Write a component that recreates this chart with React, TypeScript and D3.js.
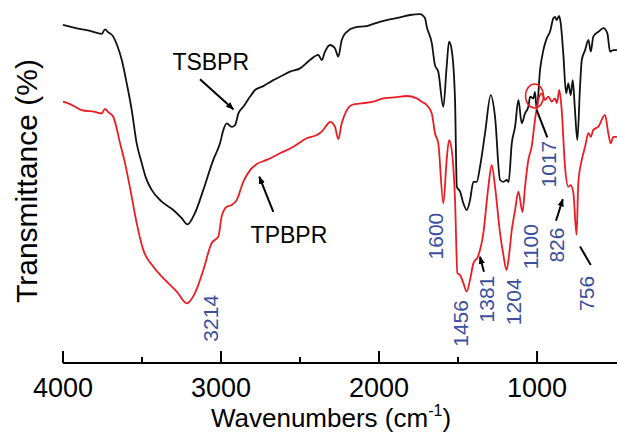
import React from "react";
import * as d3 from "d3";

// TSBPR (black) spectrum: [wavenumber cm-1, transmittance a.u.]
const tsbpr: [number, number][] = [
  [4000,101.7],[3924,100.7],[3829,99.7],[3755,98.7],[3734,100.2],[3715,99.3],[3682,97.8],[3658,95],[3628,90],[3597,82.3],[3565,73.3],[3534,62.3],[3502,55.7],[3475,50.7],[3439,46.7],[3375,42.8],[3302,40],[3249,37.3],[3213,35.2],[3165,39],[3112,46.7],[3049,56.7],[3006,62.3],[2985,66.7],[2964,68.9],[2932,67.7],[2911,68.3],[2890,72.2],[2859,74.4],[2816,77.8],[2785,80],[2732,81.3],[2669,83.3],[2627,84.4],[2563,86.1],[2500,87.2],[2437,90],[2384,91.7],[2363,90],[2342,92.8],[2310,95],[2279,93.9],[2258,91.1],[2236,96.7],[2204,99.4],[2152,100.9],[2078,101.3],[2015,102.4],[1951,103.3],[1867,104.2],[1804,105],[1741,105.3],[1709,103.9],[1698,101.1],[1666,95.6],[1646,88.3],[1625,86.1],[1593,74.4],[1572,87.8],[1557,96.1],[1540,93.3],[1519,76.7],[1508,47.8],[1487,46.1],[1466,42.2],[1445,40],[1424,43.3],[1403,49.4],[1382,49.4],[1361,54.4],[1329,65.6],[1293,78.3],[1266,71.1],[1234,50],[1213,49.4],[1192,50],[1180,49.3],[1160,62.2],[1139,67.8],[1118,76.7],[1097,68.9],[1076,72.2],[1055,74.4],[1044,77.8],[1023,77.2],[1013,79.4],[1002,73.3],[981,86.7],[960,93.3],[939,97.2],[918,99.4],[897,103.9],[886,104.4],[875,103.3],[861,104.7],[850,102.2],[834,92.2],[816,78.9],[802,82.2],[787,78.3],[774,83.3],[760,73.3],[745,63.3],[728,81.1],[717,90],[696,93.3],[675,96.7],[660,92.8],[644,97.8],[612,99.4],[580,100.6],[555,98.9],[538,92.8],[517,93.3],[494,93.3]
];

// TPBPR (red) spectrum
const tpbpr: [number, number][] = [
  [4000,76.1],[3956,75.3],[3882,73.3],[3797,72.7],[3755,72.2],[3734,73.7],[3715,72.7],[3682,71.1],[3639,62.3],[3608,55.7],[3565,44.4],[3534,35.7],[3492,26.7],[3428,21.1],[3354,16.7],[3280,12.8],[3217,8.9],[3165,12.3],[3112,20],[3059,29],[3017,31.1],[2996,37.8],[2964,41.1],[2932,41.7],[2901,43.3],[2859,49.4],[2816,53.3],[2774,55.3],[2711,56.7],[2627,58.9],[2542,61.1],[2458,63.9],[2394,65],[2363,66.1],[2331,68.3],[2310,69.4],[2279,67.8],[2258,63.6],[2236,68.9],[2204,73.3],[2173,75],[2099,75.6],[2036,76.1],[1973,77.2],[1888,77.6],[1825,78],[1761,77.2],[1730,76.1],[1698,75],[1666,72.2],[1646,65.6],[1625,62.2],[1593,42.2],[1572,56.7],[1557,63.3],[1540,60],[1519,43.3],[1504,18.9],[1487,18.3],[1466,15.6],[1445,12.8],[1424,16.7],[1403,22.2],[1372,24.7],[1340,32.2],[1308,47.8],[1287,55],[1266,47.8],[1234,32.2],[1213,25],[1193,20],[1177,25],[1160,33.3],[1139,40],[1118,46.1],[1092,39.3],[1076,47.8],[1055,56.7],[1034,61.1],[1013,70],[992,76.7],[970,78.9],[949,76.7],[928,77.8],[907,76.1],[886,77.2],[875,75.6],[859,80],[844,73.3],[823,54.4],[802,47.8],[787,48.3],[770,45.6],[750,31.7],[739,48.9],[717,56.7],[696,61.1],[675,65.6],[660,64.4],[644,66.7],[612,67.8],[570,71.7],[549,65.6],[534,62.2],[517,64.4],[494,64.4]
];

const majorTicks = [4000, 3000, 2000, 1000];
const minorTicks = [3500, 2500, 1500];

// peak labels: text, anchor wavenumber, anchor transmittance (label centre)
const peakLabels: [string, number, number][] = [
  ["3214", 3065, 3.9],
  ["1600", 1641, 31.3],
  ["1456", 1487, 2.2],
  ["1381", 1318, 10.3],
  ["1204", 1150, 9.4],
  ["1100", 1044, 27.8],
  ["1017", 929, 55.3],
  ["826", 875, 28.3],
  ["756", 686, 12.2],
];

// leader lines: [w1, t1, w2, t2, arrowhead]
const leaders: [number, number, number, number, boolean][] = [
  [1336, 19.4, 1361, 24.4, true],
  [880, 36.4, 837, 43.6, true],
  [660, 21.7, 728, 27.8, false],
  [1002, 73.3, 935, 64.2, false],
  [3133, 83.6, 2922, 73.6, true],
  [2669, 39.4, 2758, 51.1, true],
];

const seriesLabels: [string, number, number][] = [
  ["TSBPR", 3065, 86.7],
  ["TPBPR", 2570, 29.1],
];

const circleMark: [number, number] = [1016, 78];

const W = 617;
const H = 433;
const FONT = "'Liberation Sans', Arial, Helvetica, sans-serif";
const BLUE = "#3d4f9e";
const RED = "#ec1c24";

export default function App() {
  const x = d3.scaleLinear().domain([4000, 494]).range([63, 617]);
  const y = d3.scaleLinear().domain([-11, 110]).range([363, 0]);
  const axisY = 363;

  const line = d3
    .line<[number, number]>()
    .x((d) => x(d[0]))
    .y((d) => y(d[1]))
    .curve(d3.curveMonotoneX);

  return (
    <svg
      width={W}
      height={H}
      style={{ position: "absolute", left: 0, top: 0, background: "#fff" }}
      fontFamily={FONT}
    >
      <defs>
        <marker
          id="ah"
          viewBox="0 0 10 10"
          refX="9"
          refY="5"
          markerWidth="4"
          markerHeight="4"
          orient="auto"
          markerUnits="strokeWidth"
        >
          <path d="M0,1 L10,5 L0,9 Z" fill="#000" />
        </marker>
      </defs>

      <path d={line(tsbpr) || ""} fill="none" stroke="#111" strokeWidth={1.8} strokeLinejoin="round" />
      <path d={line(tpbpr) || ""} fill="none" stroke={RED} strokeWidth={1.8} strokeLinejoin="round" />

      <ellipse
        cx={x(circleMark[0])}
        cy={y(circleMark[1])}
        rx={9}
        ry={12}
        fill="none"
        stroke={RED}
        strokeWidth={1.6}
      />

      {leaders.map((l, i) => (
        <line
          key={i}
          x1={x(l[0])}
          y1={y(l[1])}
          x2={x(l[2])}
          y2={y(l[3])}
          stroke="#000"
          strokeWidth={2}
          markerEnd={l[4] ? "url(#ah)" : undefined}
        />
      ))}

      {seriesLabels.map((s) => (
        <text key={s[0]} x={x(s[1])} y={y(s[2])} textAnchor="middle" fontSize={23} fill="#000">
          {s[0]}
        </text>
      ))}

      {peakLabels.map((p) => (
        <text
          key={p[0]}
          transform={`translate(${x(p[1])},${y(p[2])}) rotate(-90)`}
          textAnchor="middle"
          dominantBaseline="central"
          fontSize={21}
          fill={BLUE}
        >
          {p[0]}
        </text>
      ))}

      {/* x axis */}
      <line x1={63} x2={617} y1={axisY} y2={axisY} stroke="#000" strokeWidth={2} />
      {majorTicks.map((t) => (
        <g key={t}>
          <line x1={x(t)} x2={x(t)} y1={axisY} y2={axisY - 12} stroke="#000" strokeWidth={2} />
          <text x={x(t)} y={397} textAnchor="middle" fontSize={27} fill="#000">
            {t}
          </text>
        </g>
      ))}
      {minorTicks.map((t) => (
        <line key={t} x1={x(t)} x2={x(t)} y1={axisY} y2={axisY - 6} stroke="#000" strokeWidth={2} />
      ))}

      <text x={331} y={427} textAnchor="middle" fontSize={26} fill="#000">
        Wavenumbers (cm
        <tspan fontSize={16} dy={-11}>-1</tspan>
        <tspan dy={11}>)</tspan>
      </text>

      <text
        transform={`translate(37,181) rotate(-90)`}
        textAnchor="middle"
        fontSize={30}
        fill="#000"
      >
        Transmittance (%)
      </text>
    </svg>
  );
}
